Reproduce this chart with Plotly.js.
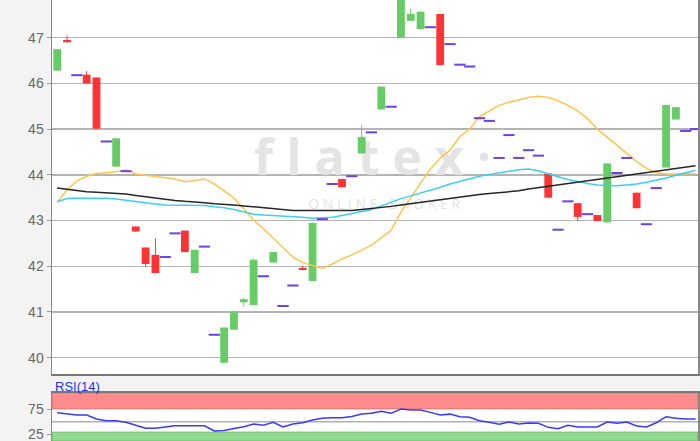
<!DOCTYPE html>
<html>
<head>
<meta charset="utf-8">
<script src="https://cdn.plot.ly/plotly-3.0.1.min.js"></script>
<style>html,body{margin:0;padding:0;background:#f3f3f3;}#chart{width:700px;height:441px;}</style>
</head>
<body>
<div id="chart"></div>
<script>
// ---- data ----
const opens  = [46.28,46.95,46.18,46.19,46.13,44.73,44.18,44.08,42.87,42.41,42.25,42.20,42.72,42.78,41.85,42.43,40.50,39.89,40.61,41.21,41.15,41.78,42.08,41.13,41.58,41.96,41.68,43.03,43.80,43.91,43.97,44.47,44.93,45.43,45.49,47.00,47.37,47.19,47.23,47.52,46.86,46.41,46.37,45.24,45.18,44.37,44.87,44.37,44.54,44.42,44.03,42.80,43.42,43.38,43.14,43.12,42.96,44.04,44.37,43.61,42.92,43.71,44.16,45.21,44.96,45.00];
const highs  = [46.75,47.05,46.18,46.27,46.13,44.73,44.80,44.08,42.87,42.41,42.61,42.20,42.72,42.78,42.36,42.43,40.50,40.66,41.01,41.31,42.17,41.78,42.31,41.13,41.58,42.01,42.95,43.03,43.80,43.91,43.97,45.08,44.93,45.93,45.49,48.00,47.64,47.57,47.23,47.52,46.86,46.41,46.37,45.24,45.18,44.37,44.87,44.37,44.54,44.42,44.03,42.80,43.42,43.38,43.14,43.12,44.25,44.04,44.37,43.61,42.92,43.71,45.53,45.48,44.96,45.00];
const lows   = [46.28,46.90,46.18,46.00,45.01,44.73,44.18,44.08,42.76,41.99,41.85,42.20,42.72,42.31,41.85,42.43,40.50,39.89,40.61,41.12,41.15,41.78,42.08,41.13,41.58,41.92,41.68,43.03,43.80,43.73,43.97,44.47,44.93,45.43,45.49,47.00,47.37,47.19,47.23,46.40,46.86,46.41,46.37,45.24,45.18,44.37,44.87,44.37,44.54,44.42,43.50,42.80,43.42,42.99,43.14,42.99,42.96,44.04,44.37,43.27,42.92,43.71,44.16,45.21,44.96,45.00];
const closes = [46.75,46.90,46.18,46.00,45.01,44.73,44.80,44.08,42.76,42.05,41.85,42.20,42.72,42.31,42.36,42.43,40.50,40.66,41.01,41.28,42.14,41.78,42.31,41.13,41.58,41.92,42.95,43.03,43.80,43.73,43.97,44.83,44.93,45.93,45.49,48.00,47.52,47.57,47.23,46.40,46.86,46.41,46.37,45.24,45.18,44.37,44.87,44.37,44.54,44.42,43.50,42.80,43.42,43.08,43.14,42.99,44.25,44.04,44.37,43.27,42.92,43.71,45.53,45.48,44.96,45.00];
const maOrange = [43.40,43.67,43.87,43.97,44.03,44.05,44.07,44.11,44.02,43.99,43.96,43.94,43.91,43.85,43.88,43.91,43.80,43.65,43.49,43.26,43.01,42.82,42.62,42.41,42.20,42.08,42.01,41.95,42.05,42.16,42.25,42.36,42.46,42.62,42.79,43.18,43.51,43.82,44.13,44.37,44.54,44.84,45.00,45.27,45.40,45.52,45.59,45.64,45.69,45.72,45.69,45.62,45.52,45.40,45.23,45.00,44.83,44.65,44.47,44.29,44.14,44.05,44.02,44.02,44.02,44.03];
const maCyan   = [43.41,43.48,43.49,43.49,43.49,43.49,43.47,43.44,43.41,43.39,43.36,43.34,43.34,43.34,43.34,43.33,43.30,43.28,43.24,43.19,43.14,43.12,43.11,43.10,43.09,43.07,43.05,43.06,43.07,43.11,43.15,43.20,43.24,43.32,43.40,43.48,43.54,43.60,43.67,43.73,43.80,43.86,43.92,43.97,44.01,44.05,44.08,44.11,44.13,44.09,44.02,43.96,43.90,43.85,43.81,43.78,43.77,43.76,43.78,43.80,43.84,43.88,43.93,43.99,44.05,44.10];
const maBlack  = [43.71,43.68,43.65,43.63,43.62,43.61,43.60,43.58,43.55,43.52,43.49,43.46,43.44,43.42,43.41,43.39,43.37,43.36,43.34,43.32,43.30,43.28,43.26,43.24,43.22,43.22,43.22,43.22,43.22,43.22,43.22,43.24,43.26,43.28,43.31,43.34,43.37,43.40,43.43,43.45,43.48,43.52,43.55,43.57,43.59,43.61,43.63,43.65,43.69,43.72,43.75,43.78,43.81,43.84,43.87,43.90,43.93,43.96,43.99,44.02,44.05,44.08,44.11,44.14,44.17,44.20];
const rsi14    = [68.1,66.5,63.5,63.5,55.4,52.0,52.0,48.8,42.3,36.7,36.7,39.4,42.0,42.0,42.0,41.8,31.2,32.3,36.5,40.0,45.3,42.9,48.8,39.4,45.3,48.0,53.5,56.8,58.0,58.0,60.6,65.5,66.9,71.0,66.9,75.5,73.5,73.5,68.8,63.5,65.3,60.1,58.8,52.0,48.8,44.7,49.4,45.3,47.4,46.8,38.7,35.9,42.7,39.4,39.4,39.4,49.4,46.8,49.4,41.3,39.4,48.0,60.1,56.8,55.4,55.4];
const priceTicks = [40,41,42,43,44,45,46,47];
const rsiTicks = [25,75];
const rsiLabel = 'RSI(14)';

// ---- build traces ----
const idx = opens.map((_, i) => i);
const GREEN = '#66cc66', RED = '#ff3333', DOJI = '#6a40f0';

function segs(filterFn, loFn, hiFn) {
  const xs = [], ys = [];
  idx.forEach(i => {
    if (filterFn(i)) { xs.push(i, i, null); ys.push(loFn(i), hiFn(i), null); }
  });
  return {xs, ys};
}
const isUp = i => closes[i] > opens[i];
const isDown = i => closes[i] < opens[i];
const isDoji = i => closes[i] === opens[i];

const gW = segs(isUp, i => lows[i], i => highs[i]);
const rW = segs(isDown, i => lows[i], i => highs[i]);
const gB = segs(isUp, i => opens[i], i => closes[i]);
const rB = segs(isDown, i => closes[i], i => opens[i]);
const dx = idx.filter(isDoji), dy = dx.map(i => closes[i]);

const traces = [
  {x:[32.1], y:[44.28], mode:'text', text:['f l a t e x ·'], textposition:'middle center',
   textfont:{family:'Open Sans', size:50, color:'#e4e4e4', weight:'bold'}, hoverinfo:'skip', cliponaxis:false},
  {x:[33.3], y:[43.34], mode:'text', text:['O N L I N E   B R O K E R'], textposition:'middle center',
   textfont:{family:'Open Sans', size:14, color:'#e4e4e4'}, hoverinfo:'skip', cliponaxis:false},
  {x:gW.xs, y:gW.ys, mode:'lines', line:{color:GREEN, width:1}, connectgaps:false, hoverinfo:'skip'},
  {x:rW.xs, y:rW.ys, mode:'lines', line:{color:RED, width:1}, connectgaps:false, hoverinfo:'skip'},
  {x:gB.xs, y:gB.ys, mode:'lines', line:{color:GREEN, width:7.8}, connectgaps:false, hoverinfo:'skip'},
  {x:rB.xs, y:rB.ys, mode:'lines', line:{color:RED, width:7.8}, connectgaps:false, hoverinfo:'skip'},
  {x:idx, y:maOrange, mode:'lines', line:{color:'#ffc44d', width:1.5}, hoverinfo:'skip'},
  {x:idx, y:maCyan, mode:'lines', line:{color:'#3ccdf5', width:1.5}, hoverinfo:'skip'},
  {x:idx, y:maBlack, mode:'lines', line:{color:'#262626', width:1.5}, hoverinfo:'skip'},
  {x:dx, y:dy, mode:'markers', marker:{symbol:'line-ew', size:8, color:DOJI, line:{color:DOJI, width:2}}, hoverinfo:'skip'},
  {x:idx, y:rsi14, xaxis:'x2', yaxis:'y2', mode:'lines', line:{color:'#3a3af5', width:1.5}, hoverinfo:'skip'}
];

const axisFont = {family:'Liberation Sans, Arial, sans-serif', size:14, color:'#666666'};
const layout = {
  width:700, height:441,
  margin:{l:52, r:2, t:0, b:0, pad:0},
  paper_bgcolor:'#f3f3f3', plot_bgcolor:'#ffffff',
  showlegend:false, hovermode:false,
  xaxis:{domain:[0,1], anchor:'y', range:[-0.53,65.25], showticklabels:false, showgrid:false, zeroline:false,
         showline:true, mirror:true, linecolor:'#777777', linewidth:1.5, ticks:''},
  yaxis:{domain:[0.1508,1], anchor:'x', range:[39.632,47.825], tickvals:priceTicks, ticktext:priceTicks.map(String),
         showgrid:true, gridcolor:'#b4b4b4', gridwidth:1.5, zeroline:false,
         showline:true, mirror:true, linecolor:'#888888', linewidth:1.5,
         ticks:'outside', ticklen:4, tickcolor:'#999999', tickwidth:1, tickfont:axisFont},
  xaxis2:{domain:[0,1], anchor:'y2', matches:'x', showticklabels:false, showgrid:false, zeroline:false,
          showline:true, mirror:true, linecolor:'#777777', linewidth:1.5, ticks:''},
  yaxis2:{domain:[0,0.1095], anchor:'x2', range:[11.1,108.5], tickvals:rsiTicks, ticktext:rsiTicks.map(String),
          showgrid:false, zeroline:false, showline:true, mirror:true, linecolor:'#888888', linewidth:1.5,
          ticks:'outside', ticklen:4, tickcolor:'#999999', tickwidth:1, tickfont:axisFont,
          ticklabeloverflow:'allow'},
  shapes:[
    {type:'rect', xref:'paper', yref:'y2', x0:0, x1:1, y0:76, y1:108.5, fillcolor:'#ff8c8c',
     line:{color:'#e06a6a', width:1}, layer:'below'},
    {type:'rect', xref:'paper', yref:'y2', x0:0, x1:1, y0:11.1, y1:29, fillcolor:'#92da92',
     line:{color:'#70c070', width:1}, layer:'below'},
    {type:'line', xref:'paper', yref:'y2', x0:0, x1:1, y0:50, y1:50, line:{color:'#b0b0b0', width:1.5}, layer:'below'}
  ],
  annotations:[
    {text:rsiLabel, xref:'paper', yref:'paper', x:0.002, y:0.1247, xanchor:'left', yanchor:'middle', showarrow:false,
     font:{family:'Liberation Sans, Arial, sans-serif', size:13, color:'#2233ee'}}
  ]
};

Plotly.newPlot('chart', traces, layout, {displayModeBar:false, staticPlot:true});
</script>
</body>
</html>
